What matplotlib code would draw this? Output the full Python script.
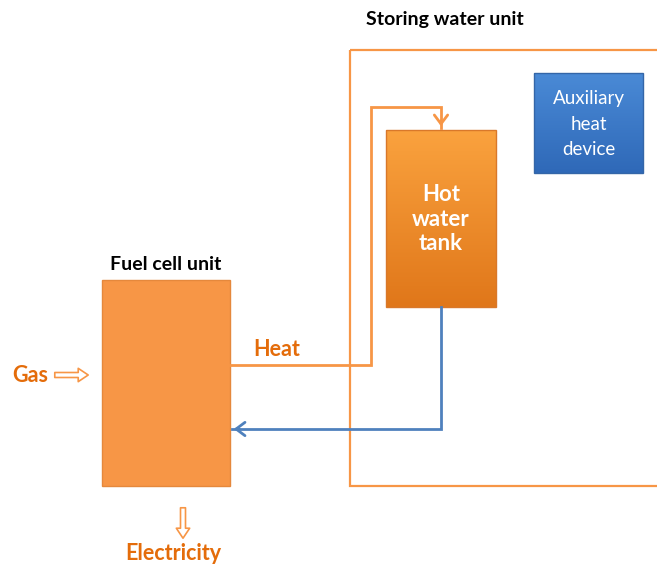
import numpy as np
import matplotlib.pyplot as plt
from matplotlib.patches import Rectangle, FancyArrowPatch
from matplotlib.colors import LinearSegmentedColormap

plt.rcParams['font.family'] = ['Lato', 'DejaVu Sans']

# подписи блоков
titles = ["Storing water unit", "Fuel cell unit"]
tank_label = "Hot\nwater\ntank"
aux_label = "Auxiliary\nheat\ndevice"
flows = ["Heat", "Gas", "Electricity"]

orange = "#F79646"
text_orange = "#E46C0A"
blue_line = "#4F81BD"

fig = plt.figure(figsize=(6.57, 5.64), dpi=100)
ax = fig.add_axes([0, 0, 1, 1])
ax.set_xlim(0, 657)
ax.set_ylim(564, 0)
ax.axis("off")


def grad_box(x0, y0, x1, y1, top, bottom, edge):
    cmap = LinearSegmentedColormap.from_list("g", [top, bottom])
    g = np.linspace(0, 1, 100).reshape(-1, 1)
    ax.imshow(g, cmap=cmap, extent=(x0, x1, y1, y0), aspect="auto", zorder=2)
    ax.add_patch(Rectangle((x0, y0), x1 - x0, y1 - y0, fill=False,
                           ec=edge, lw=1, zorder=3))


# Storing water unit
ax.add_patch(Rectangle((350, 50), 330, 436, fill=False, ec=orange, lw=1.6, zorder=1))
ax.text(366, 20, titles[0], fontsize=14, fontweight="bold", va="center", ha="left")

# Fuel cell unit
ax.add_patch(Rectangle((102, 280), 128, 206, fc=orange, ec="#E5883C", lw=1, zorder=2))
ax.text(166, 264, titles[1], fontsize=14, fontweight="bold", va="center", ha="center")

# Hot water tank
grad_box(386, 130, 496, 307, "#FAA23E", "#E0771A", "#D9782A")
ax.text(441, 219, tank_label, color="white", fontsize=16, fontweight="bold",
        ha="center", va="center", linespacing=1.2, zorder=4)

# Auxiliary heat device
grad_box(534, 73, 643, 173, "#4A8AD6", "#2F69B8", "#3466A8")
ax.text(589, 124, aux_label, color="white", fontsize=13.5,
        ha="center", va="center", linespacing=1.6, zorder=4)

# Heat line
ax.plot([230, 371, 371, 441, 441], [365, 365, 107, 107, 128], color=orange, lw=2,
        zorder=3, solid_joinstyle="miter")
ax.add_patch(FancyArrowPatch((441, 118), (441, 129), arrowstyle="->,head_length=4,head_width=3",
                             color=orange, lw=2, mutation_scale=1.6, zorder=3))
ax.text(253, 349, flows[0], color=text_orange, fontsize=15.5, fontweight="bold",
        ha="left", va="center")

# Return water line
ax.plot([441, 441, 232], [307, 429, 429], color=blue_line, lw=2, zorder=3,
        solid_joinstyle="miter")
ax.add_patch(FancyArrowPatch((242, 429), (231, 429), arrowstyle="->,head_length=4,head_width=3",
                             color=blue_line, lw=2, mutation_scale=1.6, zorder=3))

# Gas
ax.text(12, 375, flows[1], color=text_orange, fontsize=15.5, fontweight="bold",
        ha="left", va="center")
ax.add_patch(FancyArrowPatch((52, 375), (91, 375),
                             arrowstyle="simple,head_length=0.9,head_width=1.2,tail_width=0.45",
                             fc="white", ec=orange, lw=1.2, mutation_scale=8, zorder=3))

# Electricity
ax.add_patch(FancyArrowPatch((183, 505), (183, 541),
                             arrowstyle="simple,head_length=0.9,head_width=1.2,tail_width=0.45",
                             fc="white", ec=orange, lw=1.2, mutation_scale=8, zorder=3))
ax.text(173, 553, flows[2], color=text_orange, fontsize=15.5, fontweight="bold",
        ha="center", va="center")

fig.savefig("out.png", dpi=100)
